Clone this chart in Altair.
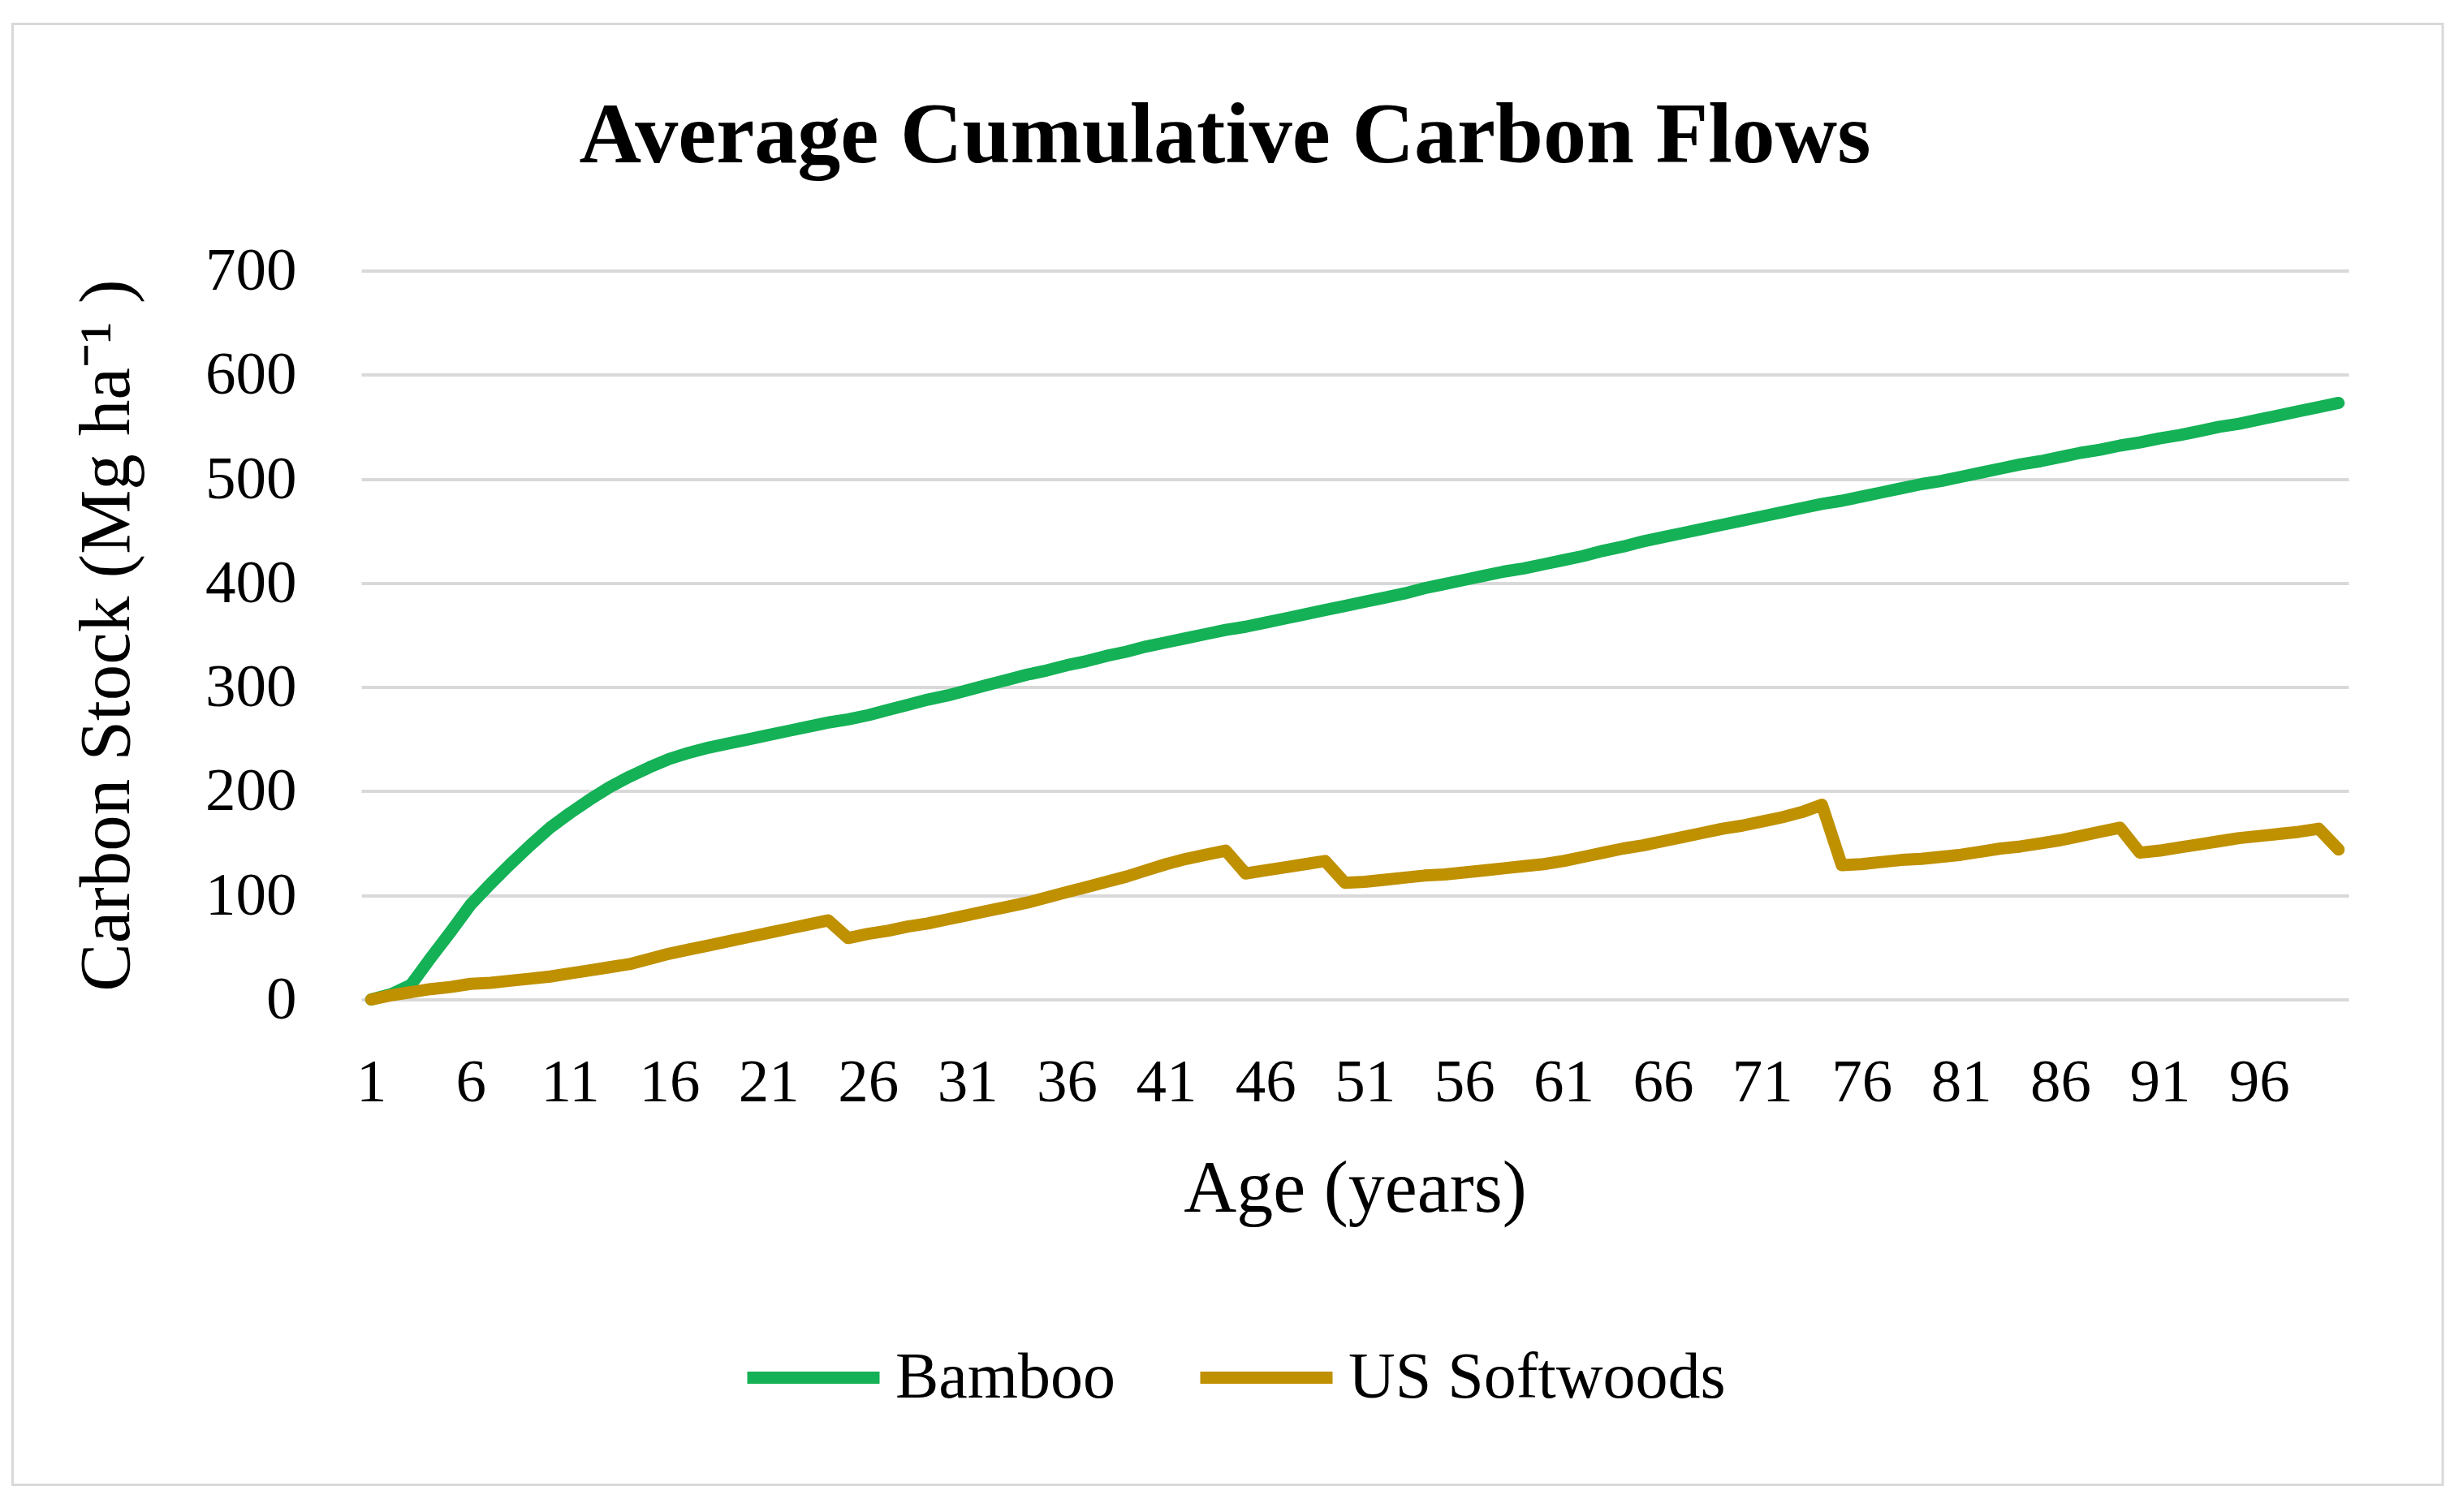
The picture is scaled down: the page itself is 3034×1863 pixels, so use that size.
import altair as alt
import pandas as pd

years = list(range(1, 101))
bamboo = [0, 5, 14, 40, 65, 91, 111, 130, 148, 165,
          179, 192, 204, 214, 223, 231, 237, 242, 246, 250,
          254, 258, 262, 266, 269, 273, 278, 283, 288, 292,
          297, 302, 307, 312, 316, 321, 325, 330, 334, 339,
          343, 347, 351, 355, 358, 362, 366, 370, 374, 378,
          382, 386, 390, 395, 399, 403, 407, 411, 414, 418,
          422, 426, 431, 435, 440, 444, 448, 452, 456, 460,
          464, 468, 472, 476, 479, 483, 487, 491, 495, 498,
          502, 506, 510, 514, 517, 521, 525, 528, 532, 535,
          539, 542, 546, 550, 553, 557, 561, 565, 569, 573]
softwoods = [0, 4, 7, 10, 12, 15, 16, 18, 20, 22,
             25, 28, 31, 34, 39, 44, 48, 52, 56, 60,
             64, 68, 72, 76, 59, 63, 66, 70, 73, 77,
             81, 85, 89, 93, 98, 103, 108, 113, 118, 124,
             130, 135, 139, 143, 121, 124, 127, 130, 133, 112,
             113, 115, 117, 119, 120, 122, 124, 126, 128, 130,
             133, 137, 141, 145, 148, 152, 156, 160, 164, 167,
             171, 175, 180, 187, 129, 130, 132, 134, 135, 137,
             139, 142, 145, 147, 150, 153, 157, 161, 165, 141,
             143, 146, 149, 152, 155, 157, 159, 161, 164, 144]
series_names = ["Bamboo", "US Softwoods"]
series_colors = ["#14B156", "#BF9000"]
x_ticks = list(range(1, 100, 5))
y_ticks = [0, 100, 200, 300, 400, 500, 600, 700]
chart_title = "Average Cumulative Carbon Flows"

df = pd.DataFrame({
    "Age": years * 2,
    "Carbon": bamboo + softwoods,
    "Series": [series_names[0]] * len(years) + [series_names[1]] * len(years),
})

FONT = "Liberation Serif"
W, H = 2448, 898

border = alt.Chart(alt.Data(values=[{}])).mark_rect(
    filled=False, stroke="#d9d9d9", strokeWidth=3
).encode(
    x=alt.value(-429.5), x2=alt.value(2564),
    y=alt.value(-304), y2=alt.value(1496),
)

title_mark = alt.Chart(alt.Data(values=[{"t": chart_title}])).mark_text(
    font=FONT, fontSize=106, fontWeight="bold", color="black",
    align="center", baseline="alphabetic",
).encode(
    text="t:N", x=alt.value(1064), y=alt.value(-134),
)

lines = alt.Chart(df).mark_line(
    strokeWidth=15, strokeCap="round", strokeJoin="round"
).encode(
    x=alt.X("Age:Q",
            scale=alt.Scale(domain=[0.5, 100.5], nice=False, zero=False),
            axis=alt.Axis(values=x_ticks, grid=False, ticks=False, tickSize=0,
                          domain=False, title="Age (years)",
                          labelFontSize=75, labelPadding=66,
                          titleFontSize=90, titlePadding=50,
                          labelFlush=False)),
    y=alt.Y("Carbon:Q",
            scale=alt.Scale(domain=[0, 700], nice=False),
            axis=alt.Axis(values=y_ticks, grid=True, gridColor="#d9d9d9",
                          gridWidth=4, ticks=False, tickSize=0, domain=False,
                          title="Carbon Stock (Mg ha⁻¹ )",
                          labelFontSize=75, labelPadding=80,
                          titleFontSize=89, titlePadding=75)),
    color=alt.Color("Series:N",
                    scale=alt.Scale(domain=series_names, range=series_colors),
                    legend=alt.Legend(title=None, orient="none",
                                      direction="horizontal",
                                      legendX=468, legendY=1275,
                                      symbolType="stroke",
                                      symbolSize=26569,
                                      symbolStrokeWidth=15,
                                      labelFontSize=80,
                                      labelOffset=12,
                                      labelLimit=1000,
                                      columnPadding=73,
                                      labelFont=FONT,
                                      labelColor="black")),
)

chart = alt.layer(border, title_mark, lines).properties(
    width=W, height=H,
    padding={"left": 6, "top": 19.5, "right": 0, "bottom": 0},
).configure_view(stroke=None).configure_axis(
    labelFont=FONT, titleFont=FONT, labelColor="black", titleColor="black",
    titleFontWeight="normal",
)

chart.save("out.html", embed_options={"renderer": "svg", "actions": False})
